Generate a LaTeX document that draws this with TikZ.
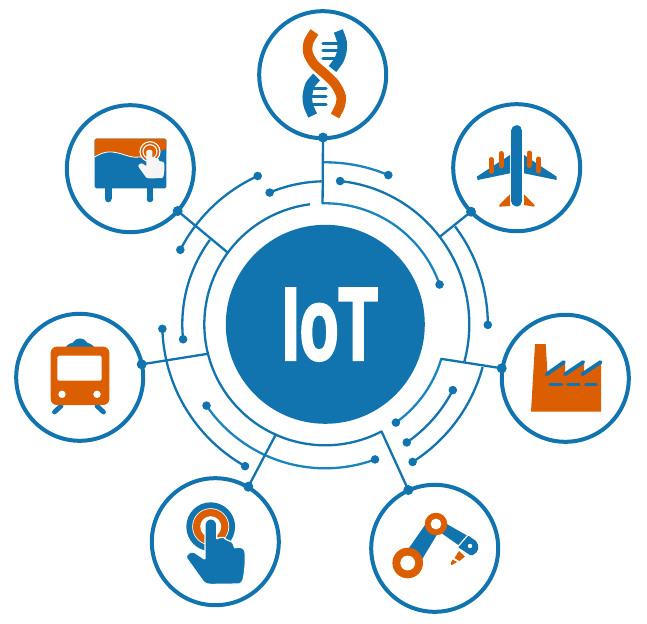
\documentclass[tikz,border=0pt]{standalone}
\usepackage{fontspec}
\newfontfamily\iotfont[FakeBold=3]{Liberation Sans Bold}
\definecolor{iotblue}{HTML}{1174AE}
\definecolor{iotlight}{HTML}{1A84C1}
\definecolor{iotorange}{HTML}{DB5F00}
\tikzset{
  x=1pt,y=-1pt,
  hubdisc/.style={circle,fill=iotblue,draw=none,minimum size=199pt,inner sep=0pt},
  satellite/.style={circle,draw=iotblue,line width=4pt,fill=white,minimum size=127pt,inner sep=0pt},
  bigdot/.style={circle,fill=iotblue,minimum size=10pt,inner sep=0pt},
  smalldot/.style={circle,fill=iotblue,minimum size=8.6pt,inner sep=0pt},
  wire/.style={draw=iotblue,line width=2.3pt},
  lightwire/.style={draw=iotlight,line width=2.3pt},
  strand/.style={line width=9.6pt},
}
% polar helpers around the hub centre, angles counter-clockwise on screen
\newcommand{\hubpt}[3]{\coordinate (#1) at ({325.3+#2*cos(#3)},{324.3-#2*sin(#3)});}
\newcommand{\hubdot}[3]{\node[smalldot] (#1) at ({325.3+#2*cos(#3)},{324.3-#2*sin(#3)}) {};}
\newcommand{\harc}[4][wire]{\draw[#1] plot[domain=#3:#4,samples=60,smooth] ({325.3+#2*cos(\x)},{324.3-#2*sin(\x)});}
% hand: origin at finger foot, local unit = 1px at scale 1
\newcommand{\handicon}[5]{%
\begin{scope}[shift={(#1,#2)},scale=#3]
\filldraw[fill=#4,draw=#5,line width=1.2pt,rounded corners=1pt]
 (-5.7,-27) arc[start angle=180,end angle=360,radius=5.85] -- (6,-12.3)
 .. controls (8,-14.5) and (13,-14.5) .. (14.3,-13.3)
 .. controls (16,-11.5) and (21,-10.5) .. (22.7,-7.7)
 .. controls (23,-6) and (24,-4) .. (24.3,-3.3)
 .. controls (26,-5) and (33,-5) .. (34.3,0)
 .. controls (35,10) and (34,20) .. (32.7,26.7)
 .. controls (32,30) and (30,32) .. (27.7,32.3)
 -- (1,32.7) .. controls (-3,32.5) and (-5,32) .. (-7.3,30)
 -- (-24,6.7) .. controls (-25,3) and (-20,-1) .. (-15.7,1)
 -- (-5.7,7.7) -- cycle;
\end{scope}}
\begin{document}
\begin{tikzpicture}
\useasboundingbox (0,0) rectangle (647,623);
\fill[white] (0,0) rectangle (647,623);

% hub
\node[hubdisc] (iot) at (325.3,324.3) {};
\node[text=white,inner sep=0pt] (iotlabel) at (329.8,324.6)
  {\scalebox{0.62}[1]{\fontsize{103}{103}\iotfont IoT}};

% wires
\hubpt{ringtop}{121}{91.3}
\hubpt{ringbill}{121}{143.7}
\hubpt{ringplane}{144}{37.4}
\hubpt{ringfact}{121}{-16.6}
\hubpt{ringrobot}{121}{-62.3}
\hubpt{ringtouch}{121}{245.8}
\hubpt{ringtrain}{121}{194.1}

\harc[lightwire]{121}{91.3}{19.2}
\harc{121}{97.3}{297.7}
\harc{144}{84.1}{-15}
\harc{162.5}{37}{-0.2}
\harc[lightwire]{121}{-16.6}{-54.3}
\harc{143.5}{-27.3}{-55.4}
\harc{163}{-15.2}{-57.6}
\harc[lightwire]{144}{-69.8}{-145.6}
\harc{163}{240.5}{181.6}
\harc{143}{186}{143.8}
\harc{163}{152.8}{114.5}
\harc{143}{112.9}{91.5}
\harc[lightwire]{162}{90.7}{67.1}

% arc end dots
\hubdot{d1}{121}{19.2}
\hubdot{d2}{144}{84.1}
\hubdot{d3}{162.5}{-0.2}
\hubdot{d4}{121}{-54.3}
\hubdot{d5}{143.5}{-27.3}
\hubdot{d6}{143.5}{-55.4}
\hubdot{d7}{163}{-57.6}
\hubdot{d8}{144}{-69.8}
\hubdot{d9}{144}{-145.6}
\hubdot{d10}{163}{240.5}
\hubdot{d11}{163}{181.6}
\hubdot{d12}{143}{186}
\hubdot{d13}{163}{152.8}
\hubdot{d14}{163}{114.5}
\hubdot{d15}{143}{112.9}
\hubdot{d16}{162}{67.1}

% satellites
\node[satellite] (dna) at (322.7,74.7) {};
\node[satellite] (bill) at (130.3,168.7) {};
\node[satellite] (plane) at (516.7,167.7) {};
\node[satellite] (factory) at (565.3,378.3) {};
\node[satellite] (train) at (79.7,377.3) {};
\node[satellite] (touch) at (215.3,541.7) {};
\node[satellite] (robot) at (434.7,548.3) {};

% satellite connection dots and spokes
\node[bigdot] (pdna) at (323,137.5) {};
\node[bigdot] (pbill) at (177.7,211) {};
\node[bigdot] (pplane) at (471,211.7) {};
\node[bigdot] (pfact) at (501.7,368.3) {};
\node[bigdot] (probot) at (408.3,490) {};
\node[bigdot] (ptouch) at (248.3,486.7) {};
\node[bigdot] (ptrain) at (141.7,364.3) {};
\draw[wire,line cap=round] (pdna.center) -- (ringtop);
\draw[wire,line cap=round] (pbill.center) -- (ringbill);
\draw[wire,line cap=round] (pplane.center) -- (ringplane);
\draw[wire,line cap=round] (pfact.center) -- (ringfact);
\draw[wire,line cap=round] (probot.center) -- (ringrobot);
\draw[wire,line cap=round] (ptouch.center) -- (ringtouch);
\draw[wire,line cap=round] (ptrain.center) -- (ringtrain);

% DNA icon
\draw[iotblue,strand] plot[smooth] coordinates {(338.3,31) (342,42) (341.7,52) (339,60) (332.5,69)};
\draw[iotblue,strand] plot[smooth] coordinates {(316.7,77) (310,85) (307.3,96.7) (308.5,106) (312.7,115.5)};
\foreach \ry in {43.3,50.7,58.3}{\draw[iotblue,line width=3.2pt,line cap=round] (323,\ry) -- (338,\ry);}
\foreach \ry in {88.3,96.7,104.3}{\draw[iotblue,line width=3.2pt,line cap=round] (312,\ry) -- (326,\ry);}
\draw[white,line width=12pt] plot[smooth] coordinates {(314,64) (325,74) (335,84)};
\draw[iotorange,strand] plot[smooth] coordinates {(314.5,32) (308.5,42) (308,53) (314,64) (325,74) (335,84) (341,96) (340,106) (335,116)};

% Billboard icon
\fill[iotblue] (105,185) rectangle (111.6,199);
\fill[iotblue] (146.7,185) rectangle (153.3,199);
\fill[iotblue] (108.3,199) circle (3.3);
\fill[iotblue] (150,199) circle (3.3);
\fill[iotblue,rounded corners=1.5pt] (94.7,138.7) rectangle (166.3,188.3);
\fill[iotorange,rounded corners=1.5pt] (94.7,138.7) -- (166.3,138.7) -- (166.3,149) -- (145,156) .. controls (130,160) and (125,153) .. (112,152) .. controls (104,151.5) and (100,154) .. (94.7,157) -- cycle;
\draw[white,line width=0.8pt] (94.7,157) .. controls (100,154) and (104,151.5) .. (112,152) .. controls (125,153) and (130,160) .. (145,156);
\fill[iotorange] (150,151.7) circle (10);
\draw[white,line width=1.1pt] (150,151.7) circle (10);
\draw[white,line width=1.1pt] (150,151.7) circle (7);
\handicon{149.3}{164}{0.42}{white!96!black}{white!96!black}

% Plane icon
\fill[iotblue] (510,155) -- (476.7,176.7) -- (477.7,180) -- (510,173.3) -- cycle;
\fill[iotblue] (524,155) -- (556.7,176.7) -- (556.7,180) -- (524,173.3) -- cycle;
\draw[iotblue,line width=11pt,line cap=round] (516.8,130.7) -- (516.8,201);
\foreach \ex/\ea/\eb in {491.3/159.5/171.5, 501/153.5/166, 529.3/153/165.5, 538.7/159/171}{
  \draw[iotorange,line width=5pt,line cap=round] (\ex,\ea) -- (\ex,\eb);}
\fill[iotorange] (510,194.3) -- (510,206) -- (499,206.7) -- (500,204) -- cycle;
\fill[iotorange] (524,194.3) -- (534.7,205) -- (534,206.7) -- (524,205) -- cycle;

% Factory icon
\fill[iotorange] (535,344) -- (545.7,344) -- (547.5,374) -- (565,361.7) -- (565,373.3) -- (584,361.7) -- (584,373.3) -- (601,361.7) -- (601,411.7) -- (531,411.7) -- cycle;
\draw[iotblue,line width=3.8pt,line cap=round] (546.7,374.3) -- (564,362);
\draw[iotblue,line width=3.8pt,line cap=round] (565,374.3) -- (583.3,362);
\draw[iotblue,line width=3.8pt,line cap=round] (582.3,374.3) -- (600.7,362);
\foreach \da/\db in {550/561.7,568/579,585.7/596}{
  \draw[iotblue,line width=3.4pt,line cap=round] (\da,384.3) -- (\db,384.3);}

% Train icon
\fill[iotblue] (66,347) .. controls (68,343.5) and (71,343.5) .. (73,342.5) .. controls (76,337) and (84,337) .. (87,342.5) .. controls (89,343.5) and (92,344) .. (94,347) -- cycle;
\draw[iotblue,line width=4.8pt,line cap=round] (61,406) -- (54.5,412);
\draw[iotblue,line width=4.8pt,line cap=round] (97,406) -- (103.5,412);
\fill[iotorange,rounded corners=6pt] (50.7,346.7) rectangle (109.3,405);
\fill[white,rounded corners=1.5pt] (57.3,355.7) rectangle (101.7,380.7);
\fill[white] (62,394.3) circle (3.7);
\fill[white] (97,394.3) circle (3.7);

% Touch icon
\fill[iotblue] (210.7,526.7) circle (24.4);
\fill[white] (210.7,526.7) circle (18.5);
\fill[iotorange] (210.7,526.7) circle (17.7);
\fill[white] (210.7,526.7) circle (10.5);
\handicon{210.7}{551.7}{1}{iotblue}{white}

% Robot icon
\fill[iotblue] (425,525) -- (436.7,535) -- (421.7,560) -- (408.3,549) -- cycle;
\fill[iotblue] (446.7,524) -- (466.7,535.3) -- (458.3,545) -- (441.7,533.3) -- cycle;
\fill[iotblue] (468.3,535.7) -- (476,541) .. controls (480,546) and (479,552) .. (473,555) -- (470,555) -- (458.3,547.3) -- cycle;
\fill[white] (470,546) circle (2.2);
\fill[iotorange] (459,551) -- (465,556.5) -- (459.5,561) -- (454.5,558) -- cycle;
\fill[iotorange] (452.5,559.5) -- (457,562) -- (453,564.5) -- (451,565) -- (450.8,563) -- cycle;
\fill[iotorange] (407.7,563) circle (15.3);
\fill[white] (407.7,563) circle (7.4);
\fill[iotorange] (436,524) circle (11.3);
\fill[white] (436,524) circle (5.4);
\end{tikzpicture}
\end{document}
